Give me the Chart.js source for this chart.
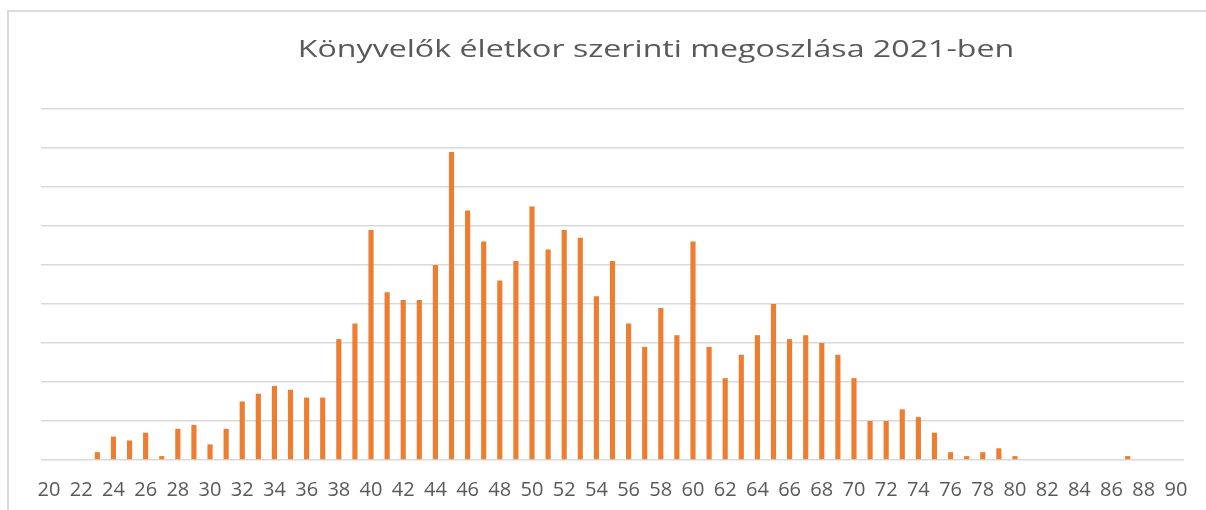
<!DOCTYPE html>
<html>
<head>
<meta charset="utf-8">
<script src="https://cdn.jsdelivr.net/npm/chart.js@4/dist/chart.umd.min.js"></script>
<style>
  html, body { margin:0; padding:0; background:#fff; overflow:hidden; }
  #wrap { position:relative; width:1206px; height:510px; overflow:hidden; }
  #frame { position:absolute; left:7px; top:10px; width:1300px; height:600px;
           border-top:2px solid #dadada; border-left:2px solid #dadada; }
  #title { position:absolute; top:31px; left:656px; transform:translateX(-50%) scaleX(1.34);
           white-space:nowrap; font-family:"Open Sans", sans-serif; font-size:24px; color:#595959; }
  #ageChart { position:absolute; left:0; top:0; }
</style>
</head>
<body>
<div id="wrap">
  <div id="frame"></div>
  <canvas id="ageChart" width="1206" height="520"></canvas>
  <div id="title">Könyvelők életkor szerinti megoszlása 2021-ben</div>
</div>
<script>
// age categories 20..90
const ages = ['20','21','22','23','24','25','26','27','28','29',
              '30','31','32','33','34','35','36','37','38','39',
              '40','41','42','43','44','45','46','47','48','49',
              '50','51','52','53','54','55','56','57','58','59',
              '60','61','62','63','64','65','66','67','68','69',
              '70','71','72','73','74','75','76','77','78','79',
              '80','81','82','83','84','85','86','87','88','89','90'];

// number of accountants per age
const counts = [0,0,0,2,6,5,7,1,8,9,
                4,8,15,17,19,18,16,16,31,35,
                59,43,41,41,50,79,64,56,46,51,
                65,54,59,57,42,51,35,29,39,32,
                56,29,21,27,32,40,31,32,30,27,
                21,10,10,13,11,7,2,1,2,3,
                1,0,0,0,0,0,0,1,0,0,0];

const yMax = 90;
const yStep = 10;

const ctx = document.getElementById('ageChart').getContext('2d');
const ageChart = new Chart(ctx, {
    type:'bar',
    data:{labels:ages, datasets:[
        {label:'Könyvelők', data:counts, backgroundColor:'#ED7D31',
         categoryPercentage:1, barPercentage:0.32}
    ]},
    options:{
        responsive:false,
        animation:false,
        devicePixelRatio:1,
        layout:{padding:{left:41, right:22, top:109, bottom:0}},
        plugins:{legend:{display:false}, title:{display:false}, tooltip:{enabled:false}},
        scales:{
            x:{
                grid:{display:false, drawTicks:false},
                border:{display:false},
                ticks:{
                    autoSkip:false, maxRotation:0, padding:18,
                    color:'#595959',
                    font:{family:'"Open Sans", sans-serif', size:20},
                    callback:(v,i)=> i%2===0 ? ages[i] : ''
                }
            },
            y:{
                min:0, max:yMax,
                grid:{color:'#d9d9d9', lineWidth:1.5, drawTicks:false},
                border:{display:false},
                ticks:{display:false, stepSize:yStep}
            }
        }
    }
});
</script>
</body>
</html>
